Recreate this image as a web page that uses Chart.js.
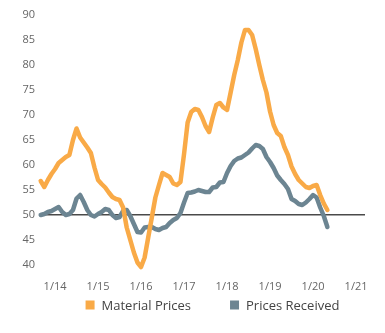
<!DOCTYPE html>
<html>
<head>
<meta charset="utf-8">
<script src="https://cdn.jsdelivr.net/npm/chart.js@4"></script>
<style>
  html, body { margin: 0; padding: 0; background: #fff; }
  #wrap { width: 385px; height: 333px; }
</style>
</head>
<body>
<div id="wrap"><canvas id="pricesChart"></canvas></div>
<script>
// Monthly index readings, first point is Sep 2013 (month -4 relative to Jan 2014)
const firstMonth = -4;

const materialPrices = [
    56.8, 55.6, 57.0, 58.2, 59.2, 60.4, 61.0, 61.6, 62.0, 65.0, 67.3, 65.5,
    64.5, 63.5, 62.4, 59.5, 57.0, 56.2, 55.5, 54.5, 53.6, 53.2, 53.0, 51.5,
    47.5, 45.0, 42.5, 40.5, 39.6, 41.5, 45.5, 49.5, 53.5, 56.0, 58.4, 58.0,
    57.6, 56.3, 56.0, 56.6, 62.2, 68.5, 70.6, 71.2, 71.0, 69.6, 67.8, 66.6,
    69.5, 72.0, 72.4, 71.5, 71.0, 74.5, 78.0, 81.0, 84.5, 87.0, 87.0, 86.0,
    83.2, 80.0, 77.0, 74.5, 70.7, 68.0, 66.4, 65.8, 63.6, 62.0, 59.7, 58.2,
    57.0, 56.3, 55.6, 55.4, 55.8, 56.0, 54.0, 52.3, 51.0
];

const pricesReceived = [
    50.0, 50.2, 50.6, 50.8, 51.2, 51.6, 50.6, 50.0, 50.2, 51.0, 53.3, 54.0,
    52.6, 51.0, 50.0, 49.7, 50.2, 50.6, 51.2, 51.0, 50.0, 49.4, 49.6, 50.8,
    51.0, 49.8, 48.2, 46.6, 46.5, 47.5, 47.6, 47.6, 47.2, 47.0, 47.4, 47.6,
    48.4, 49.0, 49.4, 50.4, 52.5, 54.4, 54.5, 54.7, 55.0, 54.8, 54.6, 54.6,
    55.5, 55.6, 56.5, 56.6, 58.4, 59.8, 60.8, 61.3, 61.5, 62.0, 62.5, 63.3,
    64.0, 63.8, 63.2, 61.6, 60.6, 59.4, 57.9, 57.0, 56.2, 55.2, 53.2, 52.8,
    52.2, 52.0, 52.5, 53.2, 54.0, 53.5, 51.5, 49.8, 47.6
];

const seriesNames = ['Material Prices', 'Prices Received'];
const seriesColors = ['#F9AA47', '#6C8592'];

// January of each year, counted in months from Jan 2014
const yearTicks = [0, 12, 24, 36, 48, 60, 72, 84];
const yearLabels = ['1/14', '1/15', '1/16', '1/17', '1/18', '1/19', '1/20', '1/21'];
const valueTicks = [40, 45, 50, 55, 60, 65, 70, 75, 80, 85, 90];
const neutralLine = 50;

function toPoints(values) {
    return values.map((v, i) => ({ x: firstMonth + i, y: v }));
}

// Legend drawn under the axis so the item spacing can be set freely
const bottomLegend = {
    id: 'bottomLegend',
    afterDraw(chart) {
        const ctx = chart.ctx;
        const area = chart.chartArea;
        const box = 9;
        const textGap = 7;
        const itemGap = 39;
        ctx.save();
        ctx.font = '13px "Open Sans", sans-serif';
        ctx.textBaseline = 'middle';
        ctx.textAlign = 'left';
        const items = chart.data.datasets.map(ds => ({
            text: ds.label,
            color: ds.borderColor,
            width: box + textGap + ctx.measureText(ds.label).width
        }));
        const total = items.reduce((s, it) => s + it.width, 0) + itemGap * (items.length - 1);
        let x = (area.left + area.right) / 2 + 10 - total / 2;
        const cy = area.bottom + 30;
        items.forEach(it => {
            ctx.fillStyle = it.color;
            ctx.fillRect(x, cy - box / 2, box, box);
            ctx.fillStyle = '#444';
            ctx.fillText(it.text, x + box + textGap, cy + 1);
            x += it.width + itemGap;
        });
        ctx.restore();
    }
};

const chartCtx = document.getElementById('pricesChart').getContext('2d');

const pricesChart = new Chart(chartCtx, {
    type: 'line',
    data: {
        datasets: [materialPrices, pricesReceived].map((values, i) => ({
            label: seriesNames[i],
            data: toPoints(values),
            borderColor: seriesColors[i],
            backgroundColor: seriesColors[i],
            borderWidth: 4.5,
            borderJoinStyle: 'round',
            borderCapStyle: 'round',
            pointRadius: 0,
            tension: 0,
            clip: false
        }))
    },
    options: {
        responsive: true,
        maintainAspectRatio: false,
        animation: false,
        layout: { padding: { top: 15, right: 20, bottom: 40, left: 0 } },
        plugins: {
            legend: { display: false },
            tooltip: { enabled: false }
        },
        scales: {
            x: {
                type: 'linear',
                min: -4.2,
                max: 86.5,
                afterBuildTicks: scale => {
                    scale.ticks = yearTicks.map(v => ({ value: v }));
                },
                afterFit: scale => { scale.height = 18; },
                grid: { display: false, drawTicks: false },
                border: { display: false },
                ticks: {
                    padding: 5,
                    maxRotation: 0,
                    autoSkip: false,
                    color: '#666',
                    font: { family: '"Open Sans", sans-serif', size: 11 },
                    callback: value => yearLabels[yearTicks.indexOf(value)]
                }
            },
            y: {
                min: 38,
                max: 90,
                z: 1,
                afterBuildTicks: scale => {
                    scale.ticks = valueTicks.map(v => ({ value: v }));
                },
                afterFit: scale => { scale.width = 40; },
                grid: {
                    drawTicks: false,
                    lineWidth: 1.5,
                    color: c => (c.tick && c.tick.value === neutralLine) ? '#4a4a4a' : 'rgba(0,0,0,0)'
                },
                border: { display: false },
                ticks: {
                    padding: 5,
                    color: '#666',
                    font: { family: '"Open Sans", sans-serif', size: 11 }
                }
            }
        }
    },
    plugins: [bottomLegend]
});
</script>
</body>
</html>
